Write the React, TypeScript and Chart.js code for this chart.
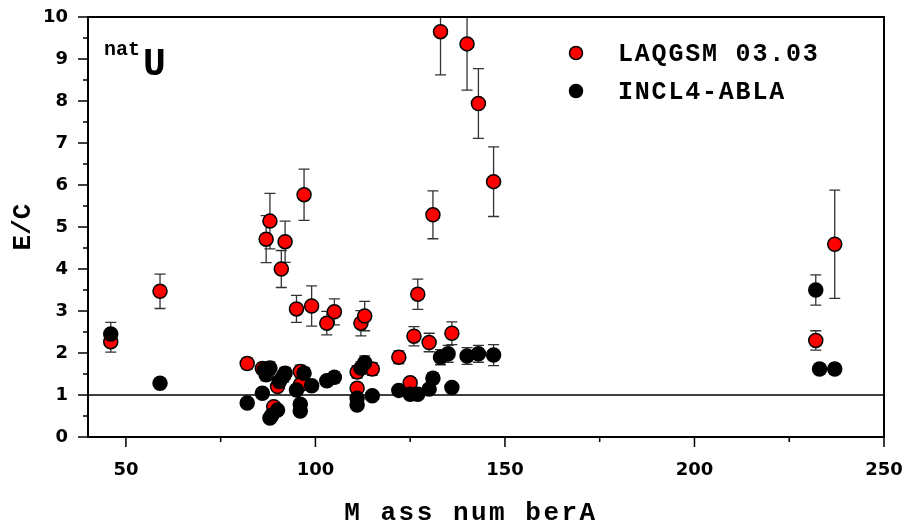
import React, { useEffect, useRef } from 'react';
import { Chart, registerables } from 'chart.js';

Chart.register(...registerables);

// ---- Data ----
const seriesNames = ['LAQGSM 03.03', 'INCL4-ABLA'];
const seriesColors = ['#ff0000', '#000000'];

const laqA = [46, 59, 82, 86, 87, 88, 89, 90, 91, 92, 95, 96, 96, 97, 99, 103, 105, 111, 111, 112, 113, 115, 122, 125, 126, 127, 130, 131, 133, 136, 140, 143, 147, 232, 237];
const laqRatio = [2.27, 3.47, 1.75, 1.63, 4.71, 5.14, 0.72, 1.2, 4.0, 4.65, 3.05, 1.56, 1.24, 5.77, 3.12, 2.71, 2.98, 1.16, 1.55, 2.71, 2.88, 1.62, 1.9, 1.29, 2.4, 3.4, 2.25, 5.29, 9.65, 2.47, 9.36, 7.94, 6.08, 2.3, 4.59];
const laqErr = [0.25, 0.41, 0.13, 0.12, 0.56, 0.66, 0.08, 0.1, 0.44, 0.49, 0.32, 0.15, 0.12, 0.61, 0.48, 0.28, 0.31, 0.1, 0.15, 0.3, 0.35, 0.15, 0.15, 0.12, 0.23, 0.36, 0.22, 0.57, 1.03, 0.27, 1.1, 0.83, 0.83, 0.23, 1.29];

const inclA = [46, 59, 82, 86, 86.5, 87, 88, 88, 88.5, 90, 90.5, 91.5, 92, 95, 96, 96, 97, 99, 103, 105, 111, 111, 112, 113, 115, 122, 125, 127, 130, 131, 133, 135, 136, 140, 143, 147, 232, 233, 237];
const inclRatio = [2.45, 1.28, 0.81, 1.04, 1.6, 1.48, 1.64, 0.45, 0.52, 0.64, 1.32, 1.44, 1.52, 1.12, 0.78, 0.62, 1.52, 1.22, 1.34, 1.42, 0.92, 0.76, 1.64, 1.77, 0.98, 1.11, 1.02, 1.02, 1.14, 1.4, 1.9, 1.98, 1.18, 1.93, 1.98, 1.95, 3.5, 1.62, 1.62];
const inclErr = [0.28, 0.1, 0.06, 0.08, 0.15, 0.14, 0.15, 0.05, 0.05, 0.06, 0.12, 0.13, 0.14, 0.1, 0.07, 0.06, 0.14, 0.11, 0.12, 0.13, 0.08, 0.07, 0.15, 0.16, 0.09, 0.1, 0.09, 0.09, 0.1, 0.13, 0.18, 0.2, 0.1, 0.2, 0.2, 0.25, 0.36, 0.12, 0.12];

const xMajorTicks = [50, 100, 150, 200, 250];
const xMinorTicks = [75, 125, 175, 225];
const yMajorTicks = [0, 1, 2, 3, 4, 5, 6, 7, 8, 9, 10];
const yMinorTicks = [0.5, 1.5, 2.5, 3.5, 4.5, 5.5, 6.5, 7.5, 8.5, 9.5];
const referenceLevel = 1;

const xTitle = 'M ass num berA';
const yTitle = 'E/C';
const labelSup = 'nat';
const labelMain = 'U';

const MONO = '"Liberation Mono", "Courier New", monospace';
const SANS = '"DejaVu Sans", sans-serif';

const decorPlugin = {
  id: 'decor',
  beforeDatasetsDraw(chart: any) {
    const { ctx, chartArea, scales } = chart;
    const xs = scales.x;
    const ys = scales.y;
    ctx.save();
    ctx.beginPath();
    ctx.rect(chartArea.left, chartArea.top, chartArea.right - chartArea.left, chartArea.bottom - chartArea.top);
    ctx.clip();
    ctx.strokeStyle = '#000';
    ctx.lineWidth = 1.5;
    const yr = ys.getPixelForValue(referenceLevel);
    ctx.beginPath();
    ctx.moveTo(chartArea.left, yr);
    ctx.lineTo(chartArea.right, yr);
    ctx.stroke();
    const sets = [
      { a: laqA, r: laqRatio, e: laqErr },
      { a: inclA, r: inclRatio, e: inclErr },
    ];
    ctx.strokeStyle = '#333333';
    ctx.lineWidth = 1.3;
    for (const s of sets) {
      for (let i = 0; i < s.a.length; i++) {
        const px = xs.getPixelForValue(s.a[i]);
        const top = ys.getPixelForValue(s.r[i] + s.e[i]);
        const bot = ys.getPixelForValue(s.r[i] - s.e[i]);
        ctx.beginPath();
        ctx.moveTo(px, top);
        ctx.lineTo(px, bot);
        ctx.moveTo(px - 5.5, top);
        ctx.lineTo(px + 5.5, top);
        ctx.moveTo(px - 5.5, bot);
        ctx.lineTo(px + 5.5, bot);
        ctx.stroke();
      }
    }
    ctx.restore();
  },
  afterDraw(chart: any) {
    const { ctx, chartArea, scales } = chart;
    const xs = scales.x;
    const ys = scales.y;
    const { left, right, top, bottom } = chartArea;
    ctx.save();
    ctx.strokeStyle = '#000';
    ctx.lineWidth = 2;
    ctx.strokeRect(left, top, right - left, bottom - top);
    ctx.lineWidth = 1.5;
    ctx.beginPath();
    for (const v of xMajorTicks) {
      const p = xs.getPixelForValue(v);
      ctx.moveTo(p, bottom);
      ctx.lineTo(p, bottom + 10);
    }
    for (const v of xMinorTicks) {
      const p = xs.getPixelForValue(v);
      ctx.moveTo(p, bottom);
      ctx.lineTo(p, bottom + 5);
    }
    for (const v of yMajorTicks) {
      const p = ys.getPixelForValue(v);
      ctx.moveTo(left, p);
      ctx.lineTo(left - 10, p);
    }
    for (const v of yMinorTicks) {
      const p = ys.getPixelForValue(v);
      ctx.moveTo(left, p);
      ctx.lineTo(left - 5, p);
    }
    ctx.stroke();

    ctx.fillStyle = '#000';
    const setLS = (v: string) => {
      try { (ctx as any).letterSpacing = v; } catch (e) {}
    };
    ctx.font = `bold 26px ${MONO}`;
    setLS('2.5px');
    ctx.textAlign = 'center';
    ctx.textBaseline = 'alphabetic';
    ctx.fillText(xTitle, 471, 520);
    setLS('0px');
    ctx.save();
    ctx.translate(30, (top + bottom) / 2);
    ctx.rotate(-Math.PI / 2);
    ctx.font = `bold 26px ${MONO}`;
    ctx.textAlign = 'center';
    ctx.textBaseline = 'alphabetic';
    ctx.fillText(yTitle, 0, 0);
    ctx.restore();

    ctx.textAlign = 'left';
    ctx.font = `bold 20px ${MONO}`;
    ctx.fillText(labelSup, 104, 55);
    ctx.font = `bold 38px ${MONO}`;
    ctx.fillText(labelMain, 143, 75);

    const legendY = [53, 91];
    seriesNames.forEach((name, i) => {
      ctx.beginPath();
      ctx.arc(576, legendY[i], 6.5, 0, Math.PI * 2);
      ctx.fillStyle = seriesColors[i];
      ctx.fill();
      ctx.lineWidth = 1.5;
      ctx.strokeStyle = '#000';
      ctx.stroke();
      ctx.fillStyle = '#000';
      ctx.font = `bold 25px ${MONO}`;
      setLS('1.8px');
      ctx.textAlign = 'left';
      ctx.fillText(name, 618, legendY[i] + 8);
    });
    setLS('0px');
    ctx.restore();
  },
};

export default function App() {
  const ref = useRef<HTMLCanvasElement | null>(null);
  useEffect(() => {
    if (!ref.current) return;
    const chart = new Chart(ref.current, {
      type: 'scatter',
      data: {
        datasets: [
          {
            label: seriesNames[0],
            data: laqA.map((a, i) => ({ x: a, y: laqRatio[i] })),
            backgroundColor: seriesColors[0],
            borderColor: '#000',
            borderWidth: 1.5,
            pointRadius: 7,
            order: 1,
          },
          {
            label: seriesNames[1],
            data: inclA.map((a, i) => ({ x: a, y: inclRatio[i] })),
            backgroundColor: seriesColors[1],
            borderColor: '#000',
            borderWidth: 1.5,
            pointRadius: 7,
            order: 0,
          },
        ],
      },
      options: {
        responsive: false,
        animation: false,
        clip: false as any,
        layout: { padding: { top: 17, right: 23, left: 0, bottom: 0 } },
        plugins: {
          legend: { display: false },
          tooltip: { enabled: false },
        },
        scales: {
          x: {
            type: 'linear',
            min: 40,
            max: 250,
            grid: { display: false, drawTicks: false },
            border: { display: false },
            afterBuildTicks: (s: any) => {
              s.ticks = xMajorTicks.map((v) => ({ value: v }));
            },
            afterFit: (s: any) => {
              s.height = 86;
              s.paddingLeft = 0;
              s.paddingRight = 0;
            },
            ticks: {
              padding: 23,
              color: '#000',
              font: { family: SANS, size: 18, weight: 'bold' },
              maxRotation: 0,
            },
          },
          y: {
            type: 'linear',
            min: 0,
            max: 10,
            grid: { display: false, drawTicks: false },
            border: { display: false },
            afterBuildTicks: (s: any) => {
              s.ticks = yMajorTicks.map((v) => ({ value: v }));
            },
            afterFit: (s: any) => {
              s.width = 88;
              s.paddingTop = 0;
              s.paddingBottom = 0;
            },
            ticks: {
              padding: 20,
              color: '#000',
              font: { family: SANS, size: 18, weight: 'bold' },
            },
          },
        },
      },
      plugins: [decorPlugin],
    });
    return () => chart.destroy();
  }, []);
  return (
    <div style={{ position: 'fixed', left: 0, top: 0, width: 907, height: 523, background: '#fff' }}>
      <canvas ref={ref} width={907} height={523} style={{ display: 'block' }} />
    </div>
  );
}
